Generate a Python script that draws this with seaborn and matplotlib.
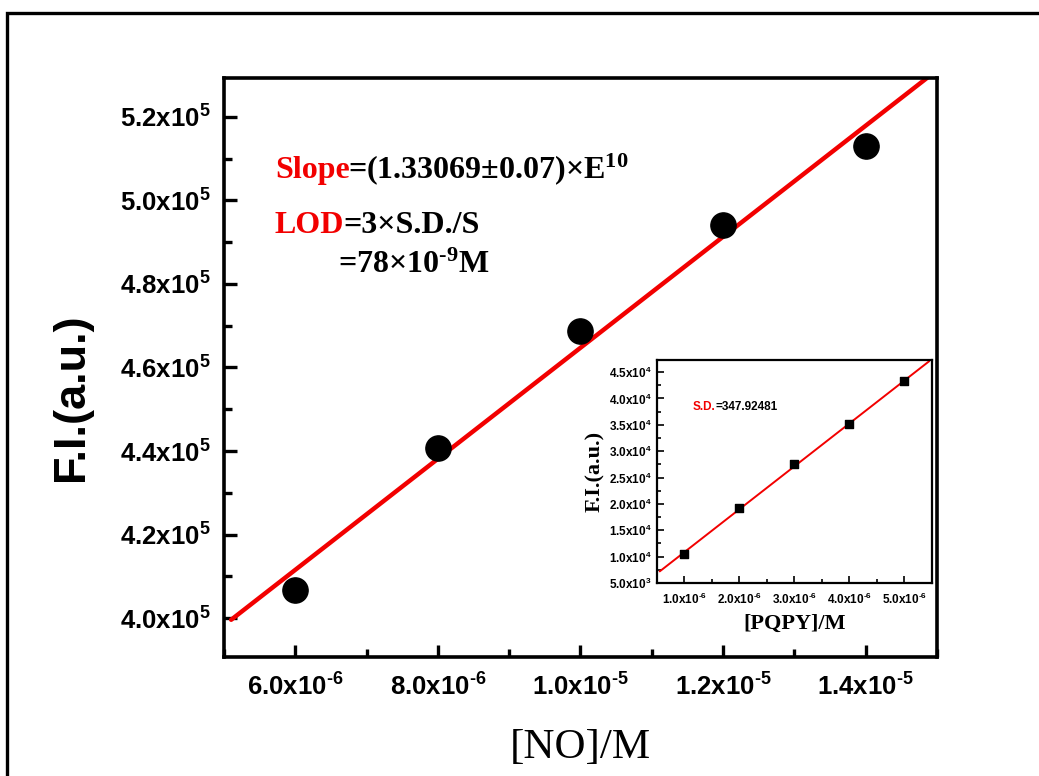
import matplotlib
matplotlib.use("Agg")
import matplotlib.pyplot as plt
from matplotlib.patches import Rectangle
from matplotlib.ticker import FixedLocator, MultipleLocator
import numpy as np
import pandas as pd
import seaborn as sns

# --- data ---
no_conc = [6e-6, 8e-6, 1.0e-5, 1.2e-5, 1.4e-5]
no_fi = [4.068e5, 4.408e5, 4.688e5, 4.942e5, 5.130e5]

pqpy_conc = [1e-6, 2e-6, 3e-6, 4e-6, 5e-6]
pqpy_fi = [1.057e4, 1.92e4, 2.748e4, 3.519e4, 4.326e4]

HY = "\u2010"  # plain hyphen for superscript exponents
main_xticks = [6e-6, 8e-6, 1.0e-5, 1.2e-5, 1.4e-5]
main_xlabels = ["6.0x10$^{%s6}$" % HY, "8.0x10$^{%s6}$" % HY, "1.0x10$^{%s5}$" % HY,
                "1.2x10$^{%s5}$" % HY, "1.4x10$^{%s5}$" % HY]
main_yticks = [4.0e5, 4.2e5, 4.4e5, 4.6e5, 4.8e5, 5.0e5, 5.2e5]
main_ylabels = ["4.0x10$^{5}$", "4.2x10$^{5}$", "4.4x10$^{5}$", "4.6x10$^{5}$",
                "4.8x10$^{5}$", "5.0x10$^{5}$", "5.2x10$^{5}$"]

ins_xticks = [1e-6, 2e-6, 3e-6, 4e-6, 5e-6]
ins_xlabels = ["1.0x10$^{%s6}$" % HY, "2.0x10$^{%s6}$" % HY, "3.0x10$^{%s6}$" % HY,
               "4.0x10$^{%s6}$" % HY, "5.0x10$^{%s6}$" % HY]
ins_yticks = [5e3, 1.0e4, 1.5e4, 2.0e4, 2.5e4, 3.0e4, 3.5e4, 4.0e4, 4.5e4]
ins_ylabels = ["5.0x10$^{3}$", "1.0x10$^{4}$", "1.5x10$^{4}$", "2.0x10$^{4}$", "2.5x10$^{4}$",
               "3.0x10$^{4}$", "3.5x10$^{4}$", "4.0x10$^{4}$", "4.5x10$^{4}$"]

df_no = pd.DataFrame({"conc": no_conc, "fi": no_fi})
df_pq = pd.DataFrame({"conc": pqpy_conc, "fi": pqpy_fi})

# --- style ---
sns.set_style("white")
plt.rcParams.update({
    "font.family": ["Liberation Sans", "DejaVu Sans"],
    "mathtext.default": "regular",
    "xtick.direction": "in",
    "ytick.direction": "in",
    "text.color": "black",
    "axes.labelcolor": "black",
    "xtick.color": "black",
    "ytick.color": "black",
})

SANS = "Liberation Sans"
SERIF = "Liberation Serif"
RED = "#f20000"

fig = plt.figure(figsize=(10.39, 7.76), dpi=100)
fig.patch.set_facecolor("white")

# outer frame (clipped at right and bottom like the source image)
fig.add_artist(Rectangle((0.0067, -0.2), 1.5, 1.183, transform=fig.transFigure,
                         fill=False, edgecolor="black", lw=2.4))


def style_axes(ax, lw, major_len, minor_len, width):
    for sp in ax.spines.values():
        sp.set_linewidth(lw)
        sp.set_color("black")
        sp.set_visible(True)
    ax.tick_params(which="major", direction="in", length=major_len, width=width,
                   top=False, right=False, bottom=True, left=True)
    ax.tick_params(which="minor", direction="in", length=minor_len, width=width,
                   top=False, right=False, bottom=True, left=True)


# --- main axes ---
ax = fig.add_axes([0.2156, 0.1534, 0.6862, 0.7461])
ax.set_xlim(5.1e-6, 1.49e-5)
sns.regplot(data=df_no, x="conc", y="fi", ax=ax, ci=None, truncate=False,
            marker="o", scatter_kws={"s": 330, "color": "black", "alpha": 1, "zorder": 3},
            line_kws={"color": RED, "lw": 3.2, "zorder": 2})
ax.set_xlim(5.0e-6, 1.5e-5)
ax.set_ylim(3.907e5, 5.293e5)
ax.xaxis.set_major_locator(FixedLocator(main_xticks))
ax.set_xticklabels(main_xlabels)
ax.xaxis.set_minor_locator(MultipleLocator(1e-6))
ax.yaxis.set_major_locator(FixedLocator(main_yticks))
ax.set_yticklabels(main_ylabels)
ax.yaxis.set_minor_locator(MultipleLocator(1e4))
style_axes(ax, 2.6, 9, 6, 2.4)
for lab in ax.get_xticklabels() + ax.get_yticklabels():
    lab.set_fontfamily(SANS)
    lab.set_fontweight("bold")
    lab.set_fontsize(18.5)
ax.tick_params(axis="x", pad=12)
ax.tick_params(axis="y", pad=10)
ax.set_xlabel("[NO]/M", fontfamily=SERIF, fontsize=31, labelpad=20)
ax.set_ylabel("F.I.(a.u.)", fontfamily=SANS, fontweight="bold", fontsize=32.5)
ax.yaxis.set_label_coords(-0.185, 0.449)

# annotations
def txt_kw(size):
    return dict(transform=ax.transAxes, fontfamily=SERIF, fontweight="bold",
                fontsize=size, va="baseline", ha="left")

t1 = ax.text(0.0715, 0.827, "Slope", color=RED, **txt_kw(23))
t2 = ax.text(0.0715, 0.733, "LOD", color=RED, **txt_kw(23))
ax.text(0.160, 0.664, "=78\u00d710$^{%s9}$M" % HY, color="black", **txt_kw(23))

fig.canvas.draw()
inv = ax.transAxes.inverted()
x_end1 = inv.transform((t1.get_window_extent().x1, 0))[0]
x_end2 = inv.transform((t2.get_window_extent().x1, 0))[0]
ax.text(x_end1 - 0.003, 0.827, "=(1.33069\u00b10.07)\u00d7E$^{10}$", color="black", **txt_kw(23))
ax.text(x_end2 - 0.002, 0.733, "=3\u00d7S.D./S", color="black", **txt_kw(23))

# --- inset ---
ins = fig.add_axes([0.6323, 0.2487, 0.2647, 0.2874])
ins.set_xlim(0.55e-6, 5.45e-6)
sns.regplot(data=df_pq, x="conc", y="fi", ax=ins, ci=None, truncate=False,
            marker="s", scatter_kws={"s": 40, "color": "black", "alpha": 1, "zorder": 3},
            line_kws={"color": RED, "lw": 1.4, "zorder": 2})
ins.set_xlim(0.5e-6, 5.5e-6)
ins.set_ylim(5e3, 4.73e4)
ins.xaxis.set_major_locator(FixedLocator(ins_xticks))
ins.set_xticklabels(ins_xlabels)
ins.xaxis.set_minor_locator(MultipleLocator(0.5e-6))
ins.yaxis.set_major_locator(FixedLocator(ins_yticks))
ins.set_yticklabels(ins_ylabels)
ins.yaxis.set_minor_locator(MultipleLocator(2.5e3))
style_axes(ins, 1.6, 5, 3, 1.2)
for lab in ins.get_xticklabels() + ins.get_yticklabels():
    lab.set_fontfamily(SANS)
    lab.set_fontweight("bold")
    lab.set_fontsize(8.5)
ins.tick_params(axis="x", pad=6)
ins.tick_params(axis="y", pad=4)
ins.set_xlabel("[PQPY]/M", fontfamily=SERIF, fontweight="bold", fontsize=16, labelpad=5)
ins.set_ylabel("F.I.(a.u.)", fontfamily=SERIF, fontweight="bold", fontsize=16, labelpad=3)

ins_lab_kw = dict(fontfamily=SANS, fontweight="bold", fontsize=8.5, va="baseline", ha="left")
t3 = ins.text(0.13, 0.775, "S.D.", color=RED, transform=ins.transAxes, **ins_lab_kw)
fig.canvas.draw()
inv2 = ins.transAxes.inverted()
x_end3 = inv2.transform((t3.get_window_extent().x1, 0))[0]
ins.text(x_end3, 0.775, "=347.92481", color="black", transform=ins.transAxes, **ins_lab_kw)

fig.savefig("out.png", dpi=100, facecolor="white")
